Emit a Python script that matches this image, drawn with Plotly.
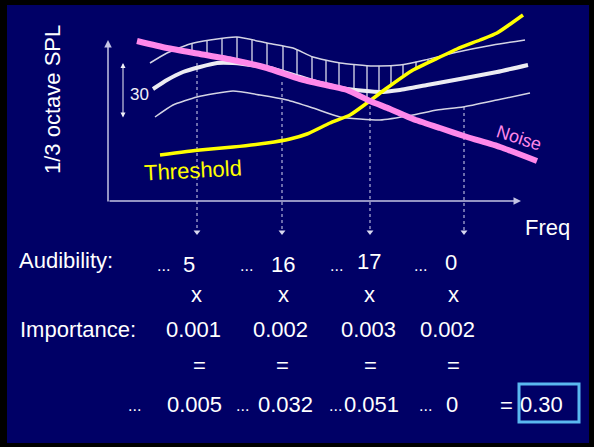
import plotly.graph_objects as go
import numpy as np

W, H = 594, 447

# ---- curves (x = freq position, y = level, screen-down) ----
upper_x = [150, 167, 190, 210, 237, 267, 293, 313, 340, 373, 400, 425, 453, 493, 525]
upper_y = [63, 53, 44, 40, 37, 43, 48, 57, 63, 66, 65, 60, 53, 45, 40]

mean_x = [153, 167, 183, 200, 217, 233, 243, 270, 300, 320, 347, 380, 400, 427, 460, 497, 528]
mean_y = [89, 80, 72, 67, 63, 63, 64, 68, 77, 83, 89, 92, 90, 85, 79, 72, 65]

lower_x = [155, 173, 197, 233, 260, 287, 313, 340, 380, 413, 437, 463, 497, 530]
lower_y = [117, 105, 97, 91, 95, 100, 108, 117, 120, 115, 110, 107, 100, 93]

noise_x = [137, 167, 200, 233, 267, 300, 330, 347, 370, 390, 413, 440, 467, 500, 537]
noise_y = [41, 48, 54, 60, 68, 79, 86, 90, 101, 109, 119, 128, 137, 147, 161]

thr_x = [160, 200, 233, 267, 290, 307, 330, 350, 367, 387, 413, 440, 457, 480, 497, 523]
thr_y = [155, 150, 147, 143, 139, 134, 123, 115, 103, 88, 70, 57, 49, 40, 33, 15]

hatch_x = [192, 207, 222, 237, 252, 267, 283, 297, 312, 326, 339, 354, 367, 379, 391, 403, 416, 428]

band_x = [197, 282, 370, 464]
band_top = [63, 82, 100, 107]

# ---- numbers in the table ----
audibility = ["5", "16", "17", "0"]
importance = ["0.001", "0.002", "0.003", "0.002"]
products = ["0.005", "0.032", "0.051", "0"]
total = "0.30"

FONT = "Liberation Sans, Arial, sans-serif"
NAVY = "#000066"
AXC = "#c4c4e4"
PINK = "#ff88ea"

fig = go.Figure()

# hatch lines (audible part)
hx, hy = [], []
for x in hatch_x:
    top = np.interp(x, upper_x, upper_y)
    bot = min(np.interp(x, noise_x, noise_y), np.interp(x, thr_x, thr_y))
    if bot > top:
        hx += [x, x, None]
        hy += [top, bot, None]
fig.add_trace(go.Scatter(x=hx, y=hy, mode="lines", line=dict(color="#f0f0f8", width=1.2),
                         hoverinfo="skip"))

# dashed band lines
for bx, bt in zip(band_x, band_top):
    fig.add_trace(go.Scatter(x=[bx, bx], y=[bt, 230], mode="lines",
                             line=dict(color="#d8d8f0", width=1, dash="3px,3px"),
                             hoverinfo="skip"))
fig.add_trace(go.Scatter(x=band_x, y=[232] * len(band_x), mode="markers",
                         marker=dict(symbol="triangle-down", size=6, color="#d8d8f0"),
                         hoverinfo="skip"))

spline = dict(shape="spline", smoothing=0.5)
fig.add_trace(go.Scatter(x=upper_x, y=upper_y, mode="lines",
                         line=dict(color="#d4d4e4", width=1.5, **spline)))
fig.add_trace(go.Scatter(x=lower_x, y=lower_y, mode="lines",
                         line=dict(color="#d4d4e4", width=1.5, **spline)))
fig.add_trace(go.Scatter(x=mean_x, y=mean_y, mode="lines",
                         line=dict(color="#ececf2", width=4, **spline)))
fig.add_trace(go.Scatter(x=thr_x, y=thr_y, mode="lines",
                         line=dict(color="#ffff00", width=3.5, **spline)))
fig.add_trace(go.Scatter(x=noise_x, y=noise_y, mode="lines",
                         line=dict(color=PINK, width=6, **spline)))

shapes = [
    dict(type="rect", xref="x", yref="y", x0=7, x1=589, y0=5, y1=443,
         fillcolor=NAVY, line=dict(width=0), layer="below"),
    dict(type="rect", xref="x", yref="y", x0=519, x1=579, y0=384, y1=422,
         fillcolor="rgba(0,0,0,0)", line=dict(color="#5ab8f0", width=3)),
]

ann = []
# axes arrows
ann.append(dict(x=108, y=40, ax=108, ay=203, xref="x", yref="y", axref="x", ayref="y",
                text="", showarrow=True, arrowhead=2, arrowsize=1, arrowwidth=1.5,
                arrowcolor=AXC))
ann.append(dict(x=521, y=201, ax=108, ay=201, xref="x", yref="y", axref="x", ayref="y",
                text="", showarrow=True, arrowhead=2, arrowsize=1, arrowwidth=1.5,
                arrowcolor=AXC))
ann.append(dict(x=123, y=63, ax=123, ay=119, xref="x", yref="y", axref="x", ayref="y",
                text="", showarrow=True, arrowhead=2, arrowside="end+start", arrowsize=1,
                arrowwidth=1, arrowcolor="#f0f0f8"))


def txt(x, y, s, size=22, color="white", xanchor="center", angle=0):
    ann.append(dict(x=x, y=y, xref="x", yref="y", text=s, showarrow=False,
                    xanchor=xanchor, yanchor="middle", textangle=angle,
                    font=dict(family=FONT, size=size, color=color)))


txt(52, 100, "1/3 octave SPL", angle=-90)
txt(139, 94, "30", size=17, color="#f0f0f8")
txt(193, 170, "Threshold", color="#ffff00", angle=-3)
txt(519, 138, "Noise", size=18, color=PINK, angle=18)
txt(547, 227, "Freq")

# table
num1_x = [189, 283, 369, 451]
num1_y = [264, 264, 261, 262]
dots1_x = [163, 246, 336, 420]
txt(17, 260, "Audibility:", xanchor="left")
for s, x, y, dx in zip(audibility, num1_x, num1_y, dots1_x):
    txt(x, y, s)
    txt(dx, 265, "...", size=16)
for x in [196, 283, 369, 453]:
    txt(x, 294, "x")
txt(18, 329, "Importance:", xanchor="left")
for s, x in zip(importance, [193, 280, 368, 447]):
    txt(x, 329, s)
for x in [199, 282, 370, 453]:
    txt(x, 365, "=")
for s, x, dx in zip(products, [194, 285, 371, 452], [134, 242, 335, 425]):
    txt(x, 404, s)
    txt(dx, 405, "...", size=16)
txt(506, 405, "=")
txt(541, 404, total)

fig.update_layout(
    width=W, height=H, margin=dict(l=0, r=0, t=0, b=0),
    paper_bgcolor="black", plot_bgcolor="black",
    showlegend=False, shapes=shapes, annotations=ann,
    xaxis=dict(range=[0, W], visible=False, fixedrange=True),
    yaxis=dict(range=[H, 0], visible=False, fixedrange=True),
)
fig.write_html("out.html", config={"displayModeBar": False},
               post_script="document.body.style.margin='0';")
